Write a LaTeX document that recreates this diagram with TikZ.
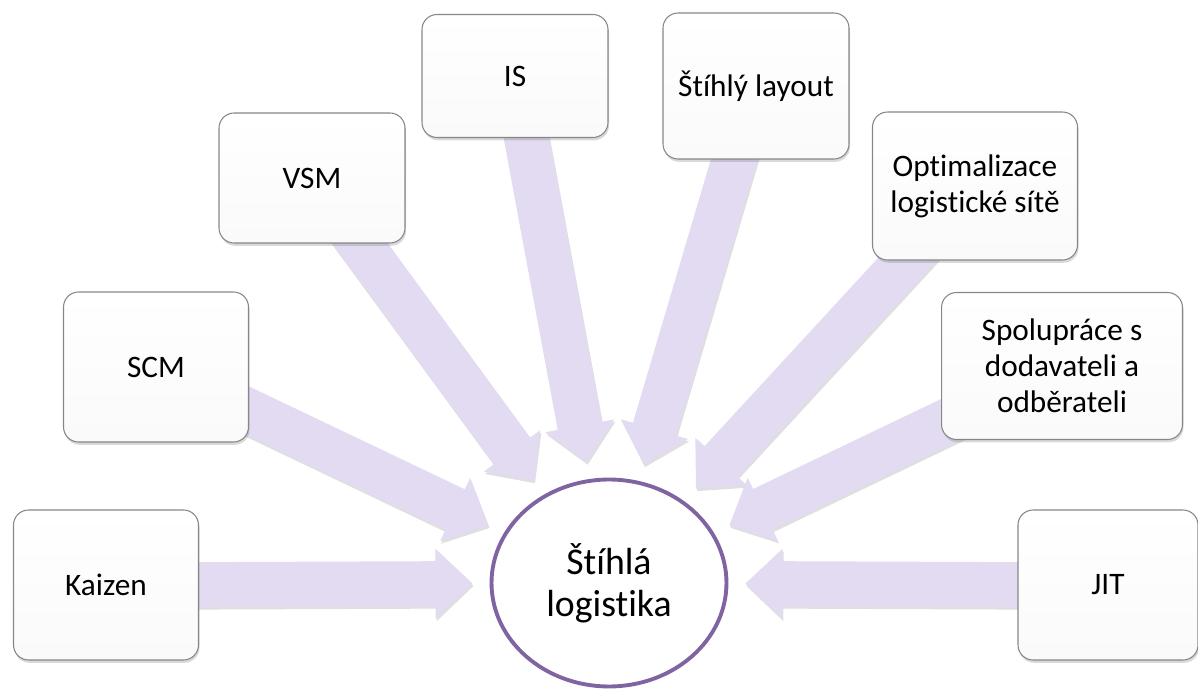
\documentclass[tikz,border=0pt]{standalone}
\usepackage{fontspec}
\setmainfont[Ligatures=NoCommon]{Carlito}
\usepackage{tikz}
\usetikzlibrary{calc,shapes.geometric,shadows,backgrounds}
\definecolor{lavarrow}{RGB}{226,219,241}
\definecolor{lavring}{RGB}{128,100,162}
\definecolor{boxedge}{RGB}{135,135,135}
\tikzset{
  item/.style={draw=boxedge, line width=0.6pt, rounded corners=0.3cm,
    top color=white, bottom color=black!2, align=center,
    font=\fontsize{17.8}{20.5}\selectfont,
    drop shadow={shadow xshift=0.6pt, shadow yshift=-1.6pt, opacity=0.3}},
  hub/.style={ellipse, draw=lavring, line width=2.2pt, fill=white,
    minimum width=4.7cm, minimum height=4.14cm, align=center,
    font=\fontsize{21.5}{24}\selectfont, outer sep=0.38cm},
  blockarrow/.style={fill=lavarrow,
    drop shadow={shadow xshift=0.6pt, shadow yshift=-1.4pt, opacity=0.25}}
}
\begin{document}
\begin{tikzpicture}[x=0.02cm,y=-0.02cm]
    \useasboundingbox (0,0) rectangle (1198,689);
    \node[hub] (logi) at (609,583) {Štíhlá\\logistika};
    \node[item, minimum width=3.7cm, minimum height=3cm] (kaizen) at (106,585) {Kaizen};
    \node[item, minimum width=3.7cm, minimum height=3cm] (scm) at (156,367) {SCM};
    \node[item, minimum width=3.72cm, minimum height=2.6cm] (vsm) at (312,178) {VSM};
    \node[item, minimum width=3.72cm, minimum height=2.46cm] (is) at (515,76) {IS};
    \node[item, minimum width=3.72cm, minimum height=2.92cm] (layout) at (756,86) {Štíhlý layout};
    \node[item, minimum width=4.1cm, minimum height=2.96cm] (optim) at (975,186) {Optimalizace\\logistické sítě};
    \node[item, minimum width=4.82cm, minimum height=2.94cm] (spol) at (1062,366) {Spolupráce s\\dodavateli a\\odběrateli};
    \node[item, minimum width=3.6cm, minimum height=3cm] (jit) at (1108,585) {JIT};
    \begin{scope}[on background layer]
    \foreach \bx in {kaizen,scm,vsm,is,layout,optim,spol,jit}{
        \path (\bx) -- (logi) coordinate[pos=1] (tip);
        \coordinate (hd) at ($(tip)!0.74cm!(\bx.center)$);
        \path[blockarrow] (tip) -- ($(hd)!0.7cm!90:(\bx.center)$)
            -- ($(hd)!0.45cm!90:(\bx.center)$) -- ($(\bx.center)!0.45cm!-90:(hd)$)
            -- ($(\bx.center)!0.45cm!90:(hd)$) -- ($(hd)!0.45cm!-90:(\bx.center)$)
            -- ($(hd)!0.7cm!-90:(\bx.center)$) -- cycle;
    }
    \end{scope}
\end{tikzpicture}
\end{document}
